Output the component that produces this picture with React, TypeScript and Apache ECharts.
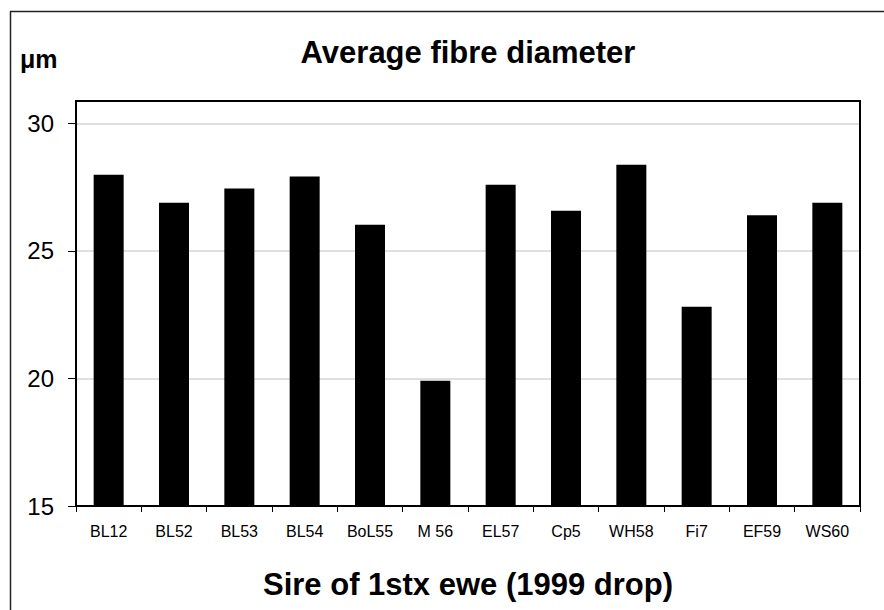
import React, { useEffect, useRef } from "react";
import * as echarts from "echarts";

const categories = ["BL12", "BL52", "BL53", "BL54", "BoL55", "M 56", "EL57", "Cp5", "WH58", "Fi7", "EF59", "WS60"];
const values = [27.98, 26.89, 27.44, 27.91, 26.02, 19.91, 27.59, 26.57, 28.38, 22.81, 26.4, 26.89];
const yTicks = [15, 20, 25, 30];

const FONT = "'Liberation Sans', Arial, Helvetica, sans-serif";

export default function App() {
  const ref = useRef<HTMLDivElement>(null);
  useEffect(() => {
    if (!ref.current) return;
    const chart = echarts.init(ref.current, null, { renderer: "svg" });
    const option = {
      animation: false,
      backgroundColor: "#ffffff",
      grid: { left: 76, top: 123.3, width: 784, height: 382.7, containLabel: false },
      xAxis: {
        type: "category",
        data: categories,
        boundaryGap: true,
        axisLine: { show: true, lineStyle: { color: "#000", width: 2 } },
        axisTick: { show: true, length: 6, alignWithLabel: false, lineStyle: { color: "#000", width: 1 } },
        axisLabel: { color: "#000", fontFamily: FONT, fontSize: 16, margin: 17, interval: 0 },
        splitLine: { show: false },
      },
      yAxis: {
        type: "value",
        min: yTicks[0],
        max: yTicks[yTicks.length - 1],
        interval: 5,
        axisLine: { show: true, lineStyle: { color: "#000", width: 2 } },
        axisTick: { show: true, length: 8, inside: false, lineStyle: { color: "#000", width: 1 } },
        axisLabel: { color: "#000", fontFamily: FONT, fontSize: 24, margin: 22 },
        splitLine: { show: true, lineStyle: { color: "#d4d4d4", width: 1.5 } },
      },
      series: [
        {
          type: "bar",
          data: values,
          barWidth: 30,
          itemStyle: { color: "#000" },
        },
      ],
      graphic: [
        {
          type: "line",
          z: 100,
          shape: { x1: 10.5, y1: 11, x2: 10.5, y2: 640 },
          style: { stroke: "#222", lineWidth: 1.5 },
        },
        {
          type: "line",
          z: 100,
          shape: { x1: 10, y1: 11.5, x2: 900, y2: 11.5 },
          style: { stroke: "#222", lineWidth: 1.5 },
        },
        {
          type: "polyline",
          z: 100,
          shape: { points: [[76, 123], [76, 101], [860, 101], [860, 506]] },
          style: { fill: "none", stroke: "#000", lineWidth: 2 },
        },
        {
          type: "text",
          x: 468,
          y: 52,
          style: {
            text: "Average fibre diameter",
            font: `bold 31px ${FONT}`,
            fill: "#000",
            textAlign: "center",
            textVerticalAlign: "middle",
          },
        },
        {
          type: "text",
          x: 20,
          y: 59,
          style: {
            text: "μm",
            font: `bold 25px ${FONT}`,
            fill: "#000",
            textAlign: "left",
            textVerticalAlign: "middle",
          },
        },
        {
          type: "text",
          x: 468,
          y: 584,
          style: {
            text: "Sire of 1stx ewe (1999 drop)",
            font: `bold 31px ${FONT}`,
            fill: "#000",
            textAlign: "center",
            textVerticalAlign: "middle",
          },
        },
      ],
    };
    chart.setOption(option as any);
    return () => chart.dispose();
  }, []);
  return (
    <div
      ref={ref}
      style={{ position: "fixed", left: 0, top: 0, width: 884, height: 610 }}
    />
  );
}
